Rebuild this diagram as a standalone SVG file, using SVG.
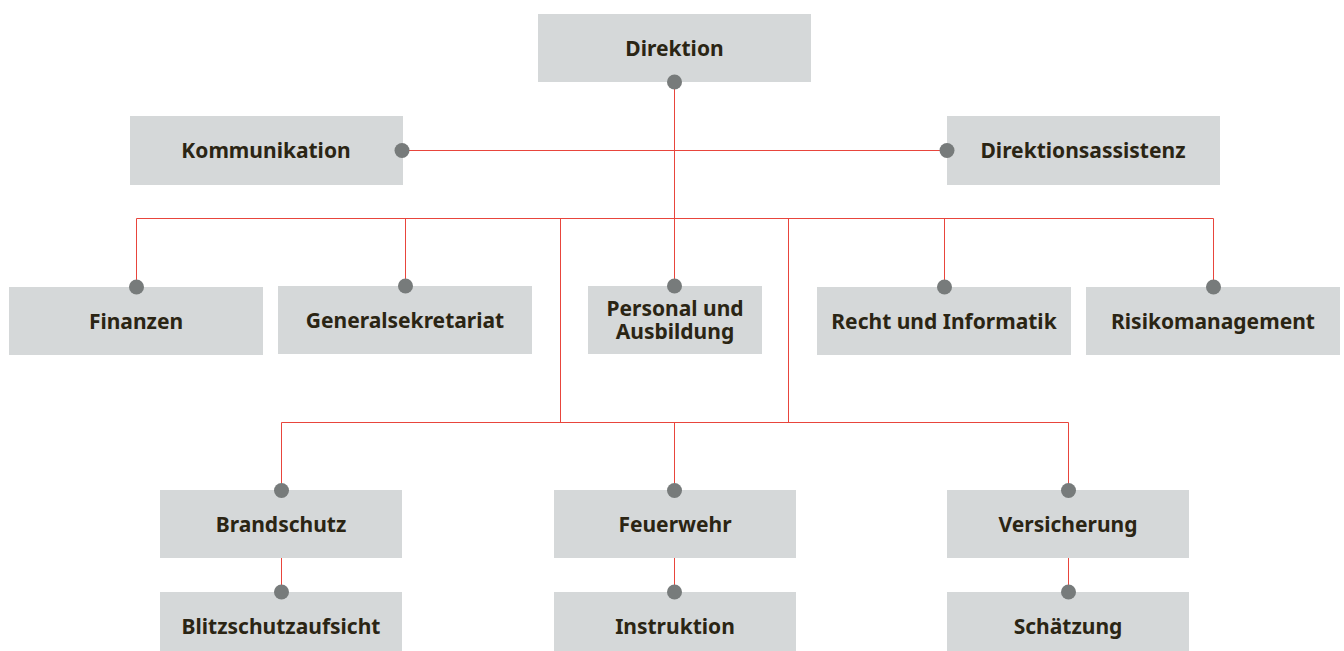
<svg xmlns="http://www.w3.org/2000/svg" width="1344" height="651" viewBox="0 0 1344 651">
<style>
.box{fill:#d5d8d9}
.t{font-family:"Noto Sans","Open Sans","Liberation Sans",sans-serif;font-weight:bold;font-size:21px;fill:#2b2514;text-anchor:middle}
.ln{stroke:#e8453c;stroke-width:1;fill:none}
.dot{fill:#777b7b}
</style>
<rect width="1344" height="651" fill="#ffffff"/>
<g id="connectors">
<path class="ln" d="M674.5 82V286"/>
<path class="ln" d="M402 150.5H947"/>
<path class="ln" d="M136.5 286V218.5H1213.5V286"/>
<path class="ln" d="M405.5 218.5V286"/>
<path class="ln" d="M944.5 218.5V286"/>
<path class="ln" d="M560.5 218.5V422.5"/>
<path class="ln" d="M788.5 218.5V422.5"/>
<path class="ln" d="M281.5 490V422.5H1068.5V490"/>
<path class="ln" d="M674.5 422.5V490"/>
<path class="ln" d="M281.5 558V592"/>
<path class="ln" d="M674.5 558V592"/>
<path class="ln" d="M1068.5 558V592"/>
</g>
<g id="n-direktion"><rect class="box" x="538" y="14" width="273" height="68"/><text class="t" x="674.5" y="56">Direktion</text><circle class="dot" cx="674.5" cy="82" r="7.5"/></g>
<g id="n-kommunikation"><rect class="box" x="130" y="116" width="273" height="69"/><text class="t" x="266" y="158">Kommunikation</text><circle class="dot" cx="402" cy="150.5" r="7.5"/></g>
<g id="n-direktionsassistenz"><rect class="box" x="947" y="116" width="273" height="69"/><text class="t" x="1083" y="158">Direktionsassistenz</text><circle class="dot" cx="947" cy="150.5" r="7.5"/></g>
<g id="n-finanzen"><rect class="box" x="9" y="287" width="254" height="68"/><text class="t" x="136" y="329">Finanzen</text><circle class="dot" cx="136.5" cy="287" r="7.5"/></g>
<g id="n-generalsekretariat"><rect class="box" x="278" y="286" width="254" height="68"/><text class="t" x="405" y="328">Generalsekretariat</text><circle class="dot" cx="405.5" cy="286" r="7.5"/></g>
<g id="n-personal"><rect class="box" x="588" y="286" width="174" height="68"/><text class="t" x="675" y="316">Personal und</text><text class="t" x="675" y="339">Ausbildung</text><circle class="dot" cx="674.5" cy="286" r="7.5"/></g>
<g id="n-recht"><rect class="box" x="817" y="287" width="254" height="68"/><text class="t" x="944" y="329">Recht und Informatik</text><circle class="dot" cx="944.5" cy="287" r="7.5"/></g>
<g id="n-risiko"><rect class="box" x="1086" y="287" width="254" height="68"/><text class="t" x="1213" y="329">Risikomanagement</text><circle class="dot" cx="1213.5" cy="287" r="7.5"/></g>
<g id="n-brandschutz"><rect class="box" x="160" y="490" width="242" height="68"/><text class="t" x="281" y="532">Brandschutz</text><circle class="dot" cx="281.5" cy="490.5" r="7.5"/></g>
<g id="n-feuerwehr"><rect class="box" x="554" y="490" width="242" height="68"/><text class="t" x="675" y="532">Feuerwehr</text><circle class="dot" cx="674.5" cy="490.5" r="7.5"/></g>
<g id="n-versicherung"><rect class="box" x="947" y="490" width="242" height="68"/><text class="t" x="1068" y="532">Versicherung</text><circle class="dot" cx="1068.5" cy="490.5" r="7.5"/></g>
<g id="n-blitzschutz"><rect class="box" x="160" y="592" width="242" height="59"/><text class="t" x="281" y="634">Blitzschutzaufsicht</text><circle class="dot" cx="281.5" cy="592" r="7.5"/></g>
<g id="n-instruktion"><rect class="box" x="554" y="592" width="242" height="59"/><text class="t" x="675" y="634">Instruktion</text><circle class="dot" cx="674.5" cy="592" r="7.5"/></g>
<g id="n-schaetzung"><rect class="box" x="947" y="592" width="242" height="59"/><text class="t" x="1068" y="634">Schätzung</text><circle class="dot" cx="1068.5" cy="592" r="7.5"/></g>
</svg>
